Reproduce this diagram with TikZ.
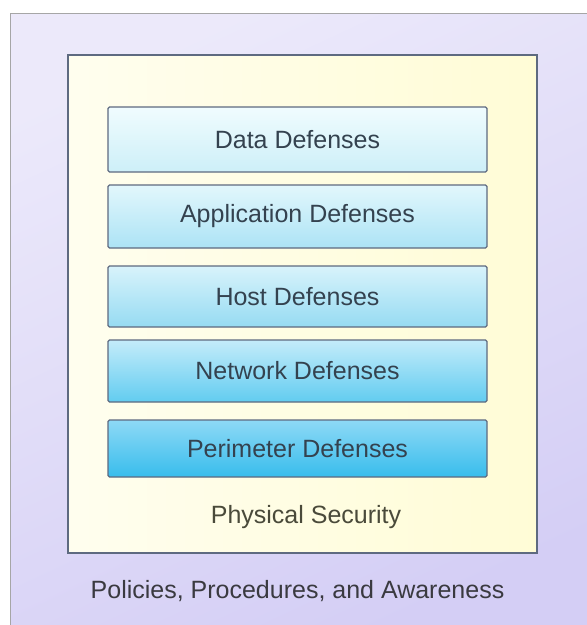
\documentclass[tikz,border=0pt]{standalone}
\usepackage{fontspec}
\setmainfont{Liberation Sans}
\usepackage{tikz}

\definecolor{lavender}{HTML}{D4CEF5}
\definecolor{paleyellow}{HTML}{FFFCD6}
\definecolor{boxline}{HTML}{5E6A80}
\definecolor{layertext}{HTML}{34424F}
\definecolor{dataTop}{HTML}{F0FCFE}
\definecolor{dataBot}{HTML}{CDEFF8}
\definecolor{appTop}{HTML}{E2F7FC}
\definecolor{appBot}{HTML}{ACE3F5}
\definecolor{hostTop}{HTML}{D8F3FB}
\definecolor{hostBot}{HTML}{96DBF2}
\definecolor{netTop}{HTML}{C4ECFA}
\definecolor{netBot}{HTML}{62CCF0}
\definecolor{periTop}{HTML}{8ED9F6}
\definecolor{periBot}{HTML}{38BDEC}

\tikzset{
    layer/.style={draw=boxline, line width=1.4pt, rounded corners=1.5pt,
        minimum width=379pt, inner sep=0pt, text=layertext,
        font=\fontsize{25}{29}\selectfont},
    ringlabel/.style={inner sep=0pt, font=\fontsize{25}{29}\selectfont},
}

\begin{document}
\begin{tikzpicture}[x=1pt, y=-1pt]
                    \useasboundingbox (0,0) rectangle (587,625);
                    \clip (0,0) rectangle (587,625);
                    \fill[white] (0,0) rectangle (587,625);

                    % outer ring
                    \shade[top color=white!55!lavender, middle color=lavender!85!white, bottom color=lavender, shading angle=25] (10,13) rectangle (600,640);
                    \draw[gray!70, line width=1pt] (10,640) -- (10,13) -- (600,13);

                    % physical ring
                    \shade[left color=white!60!paleyellow, right color=paleyellow] (68,55) rectangle (537,553);
                    \draw[boxline, line width=1.6pt] (68,55) rectangle (537,553);

                    % layers
                    \node[layer, minimum height=65pt, top color=dataTop, bottom color=dataBot] (data) at (297.5,139.5) {Data Defenses};
                    \node[layer, minimum height=63pt, top color=appTop, bottom color=appBot] (app) at (297.5,216.5) {Application Defenses};
                    \node[layer, minimum height=61pt, top color=hostTop, bottom color=hostBot] (host) at (297.5,296.5) {Host Defenses};
                    \node[layer, minimum height=62pt, top color=netTop, bottom color=netBot] (net) at (297.5,371) {Network Defenses};
                    \node[layer, minimum height=57pt, top color=periTop, bottom color=periBot] (peri) at (297.5,448.5) {Perimeter Defenses};

                    \node[ringlabel, text={rgb,255:red,74;green,74;blue,58}] (physical) at (306,517) {Physical Security};
                    \node[ringlabel, text={rgb,255:red,58;green,58;blue,64}] (policies) at (297.5,591) {Policies, Procedures, and Awareness};
\end{tikzpicture}
\end{document}
